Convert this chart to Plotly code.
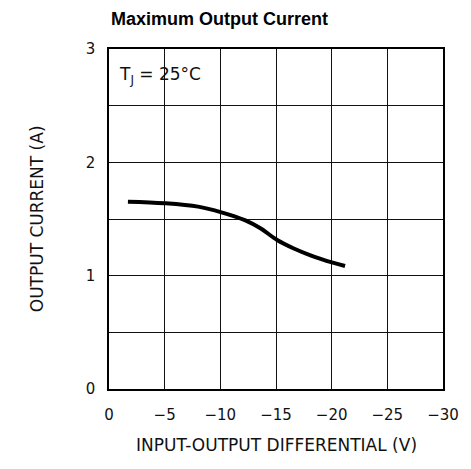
"""
Maximum output current vs input-output differential
"""

import plotly.graph_objects as go

# curve
v_diff = [-1.7, -5.0, -8.0, -10.1, -12.2, -13.6, -15.1, -16.6, -18.1, -20.1, -21.2]
i_out = [1.653, 1.639, 1.609, 1.559, 1.49, 1.418, 1.315, 1.24, 1.18, 1.115, 1.085]

x_ticks = [0, -5, -10, -15, -20, -25, -30]
y_ticks = [0, 1, 2, 3]

# the page body has an 8px margin, so the figure is drawn 8px in from the corner
OFF = 8
W, H = 471 - OFF, 469 - OFF
L, T = 109 - OFF, 49 - OFF
R, B = W - (448 - OFF), H - (389 - OFF)
PW, PH = W - L - R, H - T - B

label_font = dict(family="DejaVu Sans", size=15, color="#111")
title_font = dict(family="DejaVu Sans", size=17, color="#111")
grid = '#111'

fig = go.Figure()

fig.add_trace(go.Scatter(
    x=v_diff,
    y=i_out,
    mode='lines',
    line=dict(color='black', width=4, shape='spline'),
    showlegend=False,
    hoverinfo='skip'
))

fig.update_xaxes(
    range=[0, -30],
    tickvals=x_ticks,
    showgrid=True, gridcolor=grid, gridwidth=1,
    zeroline=False,
    showline=True, linecolor='black', linewidth=1.5, mirror=True,
    ticks='', ticklabelstandoff=11,
    tickfont=label_font,
    fixedrange=True
)
fig.update_yaxes(
    range=[0, 3],
    tickvals=y_ticks,
    showgrid=True, gridcolor=grid, gridwidth=1,
    minor=dict(dtick=0.5, showgrid=True, gridcolor=grid, gridwidth=1),
    zeroline=False,
    showline=True, linecolor='black', linewidth=1.5, mirror=True,
    ticks='', ticklabelstandoff=9,
    tickfont=label_font,
    fixedrange=True
)

# axis titles
fig.add_annotation(
    text="OUTPUT CURRENT (A)",
    xref="paper", yref="paper",
    x=(24 - 109) / PW, y=0.5,
    textangle=-90, showarrow=False,
    font=title_font
)
fig.add_annotation(
    text="INPUT-OUTPUT DIFFERENTIAL (V)",
    xref="paper", yref="paper",
    x=0.5, y=-(457 - 389) / PH,
    showarrow=False,
    font=title_font
)
# condition label
fig.add_annotation(
    text="T<sub>J</sub> = 25°C",
    xref="paper", yref="paper",
    x=(117 - 109) / PW, y=1 - (76 - 49) / PH,
    xanchor='left', yanchor='middle',
    showarrow=False,
    font=dict(family="DejaVu Sans", size=17, color="#111")
)

fig.update_layout(
    title=dict(
        text="<b>Maximum Output Current</b>",
        x=(111 - OFF) / W, xanchor='left',
        y=1 - (19 - OFF) / H, yanchor='middle',
        font=dict(family="Liberation Sans, Arial, sans-serif", size=18, color="black")
    ),
    width=W, height=H,
    margin=dict(l=L, r=R, t=T, b=B),
    plot_bgcolor='white',
    paper_bgcolor='white'
)

fig.write_html("out.html", config={'displayModeBar': False})
